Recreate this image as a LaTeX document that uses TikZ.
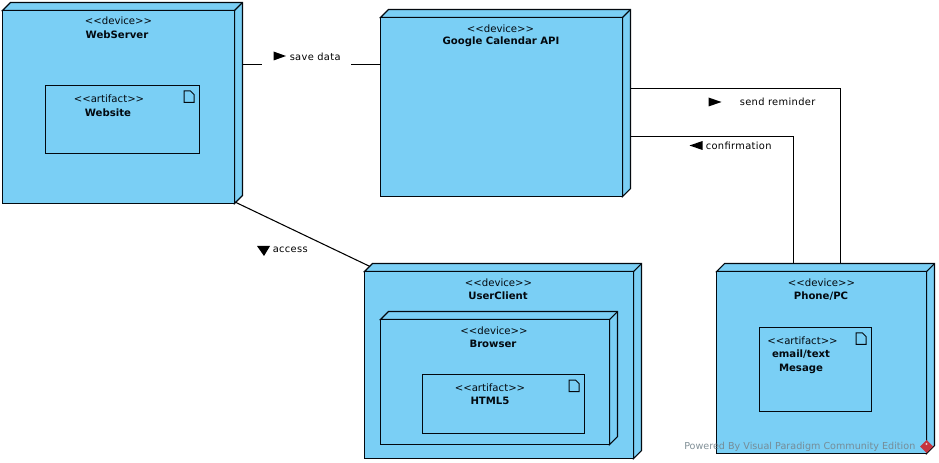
\documentclass[tikz,border=0pt]{standalone}
\usepackage{fontspec}
\setmainfont{DejaVu Sans}
\newfontfamily\lkfont[LetterSpace=3.5]{DejaVu Sans}
\definecolor{nodeblue}{HTML}{7ACFF5}
\definecolor{edgecol}{HTML}{03090F}
\definecolor{wmgray}{HTML}{75858D}
\definecolor{wmred}{HTML}{C5353F}
\tikzset{
  x=0.75pt,y=-0.75pt,
  face/.style={draw=edgecol,fill=nodeblue,line width=0.8pt,line join=miter,inner sep=0pt,outer sep=0pt,rectangle},
  wire/.style={draw=black,line width=0.8pt},
  stereo/.style={font=\fontsize{7.6}{9}\selectfont,text=edgecol,inner sep=0pt,anchor=center},
  title/.style={font=\fontsize{7.6}{9}\selectfont\bfseries,text=edgecol,inner sep=0pt,anchor=center,align=center},
  linklabel/.style={font=\lkfont\fontsize{7.4}{9}\selectfont,text=black,inner sep=0pt,anchor=west},
  tip/.style={fill=black,draw=none},
  filedoc/.style={draw=edgecol,line width=0.75pt,fill=nodeblue,line join=miter},
}
% #1 name, #2 left, #3 top, #4 right, #5 bottom (front face)
\newcommand{\devbox}[5]{%
  \path[face] (#2,#3) -- ++(8,-8) -- (#4+8,#3-8) -- (#4+8,#5-8) -- (#4,#5) -- (#4,#3) -- cycle;
  \draw[face] (#4,#3) -- (#4+8,#3-8);
  \node[face,minimum width={(#4-#2)*0.75pt},minimum height={(#5-#3)*0.75pt}] (#1) at ({(#2+#4)/2},{(#3+#5)/2}) {};
}
\newcommand{\artbox}[5]{%
  \node[face,minimum width={(#4-#2)*0.75pt},minimum height={(#5-#3)*0.75pt}] (#1) at ({(#2+#4)/2},{(#3+#5)/2}) {};
  \draw[filedoc] (#4-15.5,#3+5.5) -- ++(6.5,0) -- ++(3.5,3.5) -- ++(0,8) -- ++(-10,0) -- cycle;
}
\begin{document}
\begin{tikzpicture}
\useasboundingbox (0,0) rectangle (939,463);
\fill[white] (0,0) rectangle (939,463);

\devbox{web}{2.5}{10.5}{234.5}{203.5}
\devbox{cal}{380.5}{17.5}{622.5}{196.5}
\devbox{user}{364.5}{271.5}{633.5}{458.5}
\devbox{phone}{716.5}{271.5}{926.5}{453.5}

% connectors
\coordinate (webA) at (242.5,64.5);
\coordinate (webB) at (262,64.5);
\coordinate (calB) at (351,64.5);
\coordinate (webC) at (236,202.5);
\coordinate (userC) at (370,266.5);
\coordinate (calR) at (630.5,88.5);
\coordinate (calC) at (630.5,136.5);
\coordinate (phoneR) at (840.5,263.5);
\coordinate (phoneC) at (793.5,263.5);
\draw[wire] (webA) -- (webB);
\draw[wire] (calB) -- (cal.west |- calB);
\draw[wire] (webC) -- (userC);
\draw[wire] (calR) -| (phoneR);
\draw[wire] (calC) -| (phoneC);

% WebServer
\node[stereo] at (118.5,21) {<{}<device>{}>};
\node[title] at (117,35) {WebServer};
\artbox{website}{45.5}{85.5}{199.5}{153.5}
\node[stereo] at (109,98.5) {<{}<artifact>{}>};
\node[title] at (108,112.5) {Website};

% Google
\node[stereo] at (500.5,28.5) {<{}<device>{}>};
\node[title] at (501,42) {Google Calendar API};

% UserClient
\node[stereo] at (498.5,282.5) {<{}<device>{}>};
\node[title] at (498,296) {UserClient};
\devbox{browser}{380.5}{319.5}{609.5}{444.5}
\node[stereo] at (494,330.5) {<{}<device>{}>};
\node[title] at (493,344) {Browser};
\artbox{html}{422.5}{374.5}{584.5}{433.5}
\node[stereo] at (490,387.5) {<{}<artifact>{}>};
\node[title] at (490,401) {HTML5};

% Phone
\node[stereo] at (821.5,282.5) {<{}<device>{}>};
\node[title] at (821,296) {Phone/PC};
\artbox{art}{759.5}{327.5}{871.5}{411.5}
\node[stereo] at (802.5,340.5) {<{}<artifact>{}>};
\node[title] at (801,354.5) {email/text};
\node[title] at (801,368.5) {Mesage};

% link labels
\fill[tip] (273.5,51.5) -- (286,56) -- (273.5,60.5) -- cycle;
\node[linklabel] at (289.5,56.5) {save data};
\fill[tip] (257,246) -- (270,246) -- (264,256) -- cycle;
\node[linklabel] at (272.5,249.5) {access};
\fill[tip] (708.5,97.5) -- (721.5,102) -- (708.5,106.5) -- cycle;
\node[linklabel] at (739.5,102) {send reminder};
\fill[tip] (689.5,145.5) -- (702.5,141) -- (702.5,150) -- cycle;
\node[linklabel] at (705.5,146) {confirmation};

% watermark
\node[font=\fontsize{7.2}{9}\selectfont,text=wmgray,text opacity=0.9,inner sep=0pt,anchor=west] (wm) at (684,446.5) {Powered By Visual Paradigm Community Edition};
\fill[wmred] (926.5,440) -- (933,446.5) -- (926.5,453) -- (920,446.5) -- cycle;
\fill[white!70!wmred] (926.5,444) circle[radius=1.2];
\end{tikzpicture}
\end{document}
